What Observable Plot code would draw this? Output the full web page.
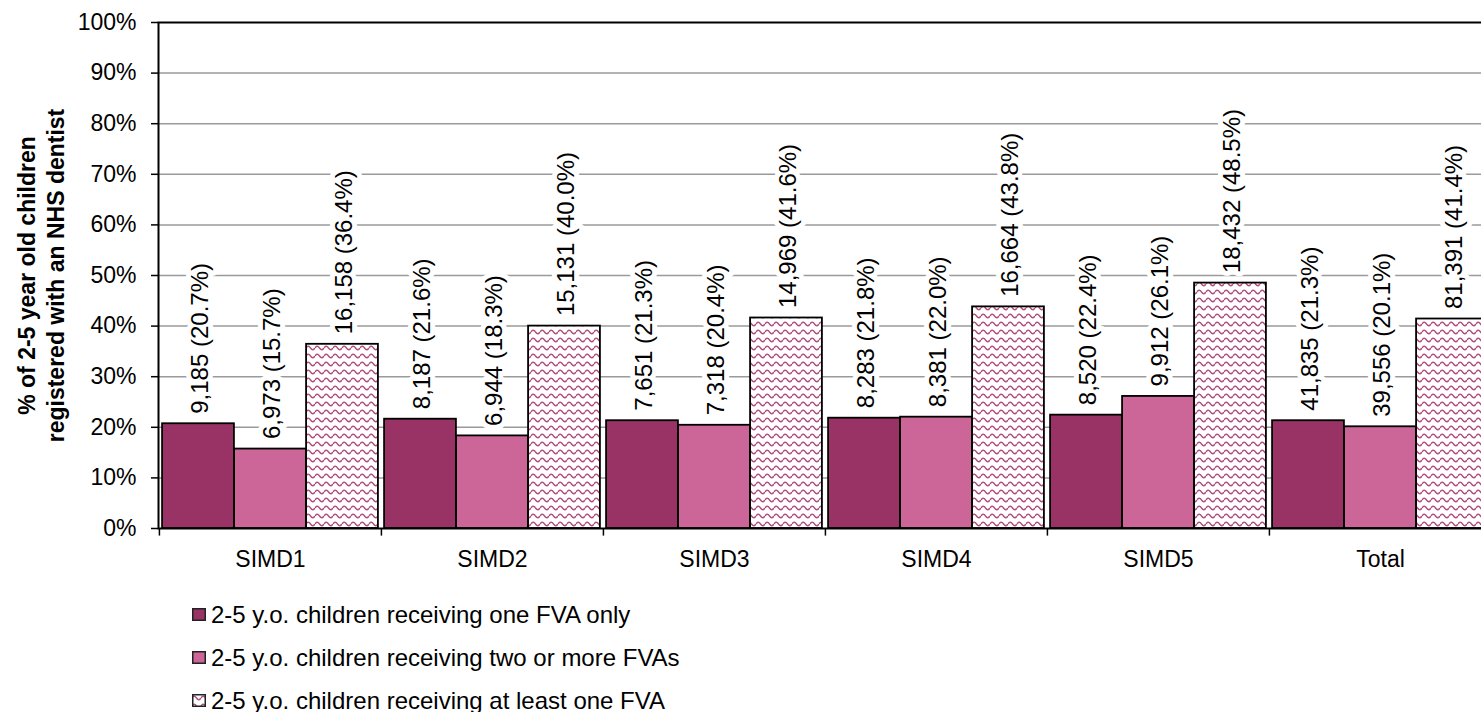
<!DOCTYPE html>
<html><head><meta charset="utf-8">
<script src="https://cdn.jsdelivr.net/npm/d3@7"></script>
<script src="https://cdn.jsdelivr.net/npm/@observablehq/plot@0.6"></script>
<style>
html,body{margin:0;padding:0;overflow:hidden;background:#fff;}
body{font-family:"Liberation Sans",Arial,sans-serif;width:1481px;height:712px;}
#chart svg{display:block;overflow:hidden;}
#legend{margin-left:192px;padding-top:3px;}
.row{display:flex;align-items:center;height:43px;font-size:24px;color:#000;line-height:1;}
.sw{width:14px;height:13px;margin-right:5px;display:block;}
</style></head><body>
<div id="chart"></div><div id="legend"></div>
<script>
const categories = ["SIMD1", "SIMD2", "SIMD3", "SIMD4", "SIMD5", "Total"];
const seriesNames = [
  "2-5 y.o. children receiving one FVA only",
  "2-5 y.o. children receiving two or more FVAs",
  "2-5 y.o. children receiving at least one FVA"
];
const oneFvaCount = [9185, 8187, 7651, 8283, 8520, 41835];
const oneFvaPct   = [20.7, 21.6, 21.3, 21.8, 22.4, 21.3];
const twoFvaCount = [6973, 6944, 7318, 8381, 9912, 39556];
const twoFvaPct   = [15.7, 18.3, 20.4, 22.0, 26.1, 20.1];
const anyFvaCount = [16158, 15131, 14969, 16664, 18432, 81391];
const anyFvaPct   = [36.4, 40.0, 41.6, 43.8, 48.5, 41.4];
const yTicks = [0, 10, 20, 30, 40, 50, 60, 70, 80, 90, 100];
const yTitle = "% of 2-5 year old children\nregistered with an NHS dentist";

const seriesCounts = [oneFvaCount, twoFvaCount, anyFvaCount];
const seriesPcts = [oneFvaPct, twoFvaPct, anyFvaPct];
const seriesFills = ["#993366", "#CC6699", "url(#wave)"];

const fmt = d3.format(",");
const rows = seriesNames.map((name, s) => categories.map((cat, i) => ({
  cat, series: s, pct: seriesPcts[s][i], count: seriesCounts[s][i],
  label: fmt(seriesCounts[s][i]) + " (" + seriesPcts[s][i].toFixed(1) + "%)"
})));

// layout
const W = 1481, H = 590;
const mLeft = 158, plotRight = 1491;
const bandW = (plotRight - mLeft) / categories.length;
const barW = 72;
const pad = (bandW - 3 * barW) / 2;

const marks = [
  Plot.gridY({ticks: yTicks.filter(t => t > 0 && t < 100), stroke: "#9a9a9a", strokeOpacity: 1, strokeWidth: 1.5})
];
rows.forEach((data, s) => {
  marks.push(Plot.barY(data, {
    x: "cat", y: "pct", fill: seriesFills[s], stroke: "#000", strokeWidth: 1.8,
    insetLeft: pad + s * barW, insetRight: bandW - pad - (s + 1) * barW
  }));
});
rows.forEach((data, s) => {
  marks.push(Plot.text(data, {
    x: "cat", y: "pct", text: "label", rotate: -90, textAnchor: "start",
    dx: pad + barW / 2 + s * barW - bandW / 2 + 2, dy: -10,
    fontSize: 24, fill: "#000", stroke: "white", strokeWidth: 10, paintOrder: "stroke"
  }));
});
marks.push(
  Plot.ruleX(categories, {x: d => d, y1: 0, y2: -1.5, dx: -bandW / 2, stroke: "#000", strokeWidth: 1.5}),
  Plot.axisY({ticks: yTicks, tickFormat: d => d + "%", tickSize: 7, tickPadding: 15, fontSize: 23, label: null, strokeWidth: 1.5}),
  Plot.axisX({tickSize: 0, tickPadding: 22, fontSize: 23, label: null}),
  Plot.frame({stroke: "#000", strokeWidth: 2}),
  Plot.text([yTitle], {text: d => d, frameAnchor: "left", textAnchor: "middle", lineAnchor: "middle",
    rotate: -90, dx: -118.5, fontSize: 23, fontWeight: "bold", lineHeight: 1.26, fill: "#000"})
);

const svg = Plot.plot({
  width: W, height: H,
  marginLeft: mLeft, marginRight: W - plotRight, marginTop: 22, marginBottom: 62,
  style: {fontFamily: '"Liberation Sans", Arial, sans-serif', background: "white", color: "#000", overflow: "hidden"},
  x: {domain: categories, padding: 0},
  y: {domain: [0, 100]},
  marks
});

const defs = d3.select(svg).insert("defs", ":first-child");
const pat = defs.append("pattern").attr("id", "wave").attr("patternUnits", "userSpaceOnUse")
  .attr("width", 9).attr("height", 8);
pat.append("rect").attr("width", 9).attr("height", 8).attr("fill", "white");
pat.append("path").attr("d", "M0,4 Q2.25,0.5 4.5,4 T9,4").attr("fill", "none")
  .attr("stroke", "#b24f80").attr("stroke-width", 1.4);

document.getElementById("chart").appendChild(svg);

const legend = d3.select("#legend");
seriesNames.forEach((name, s) => {
  const row = legend.append("div").attr("class", "row");
  const sw = row.append("svg").attr("class", "sw").attr("width", 14).attr("height", 13);
  sw.append("rect").attr("x", 0.75).attr("y", 0.75).attr("width", 12.5).attr("height", 11.5)
    .attr("fill", seriesFills[s]).attr("stroke", "#222").attr("stroke-width", 1.5);
  row.append("span").text(name);
});
</script>
</body></html>
